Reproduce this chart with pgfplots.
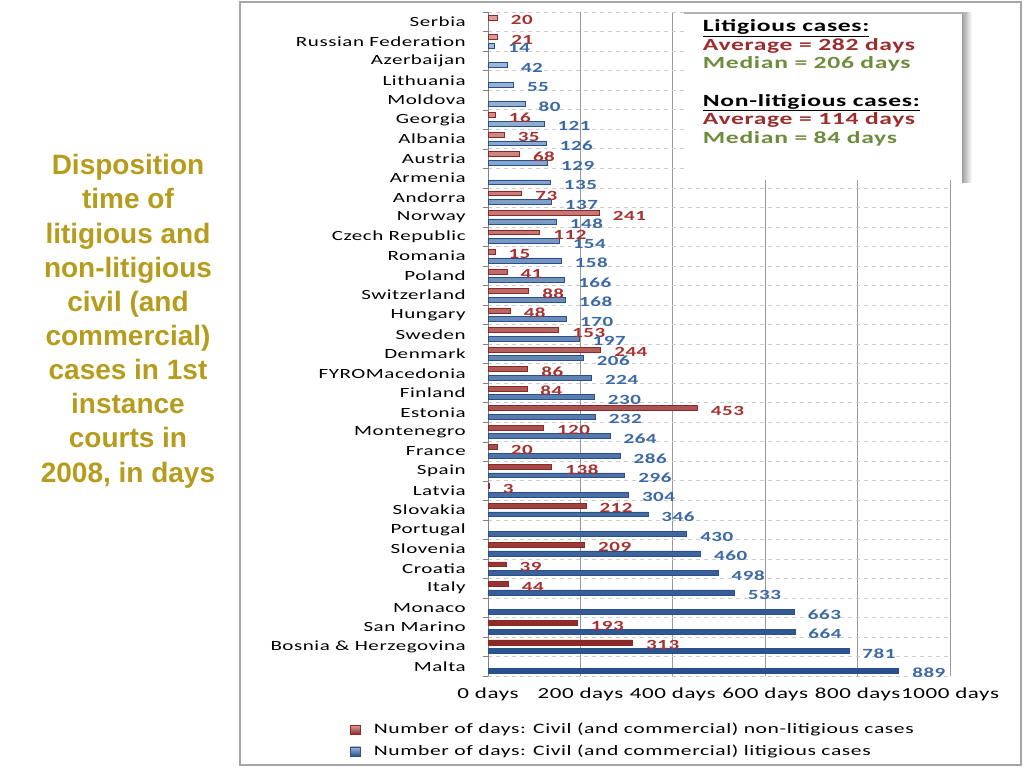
\documentclass[border=0pt]{standalone}
\usepackage{fontspec}
\setmainfont{Carlito}[FakeStretch=1.5, LetterSpace=4]
\newfontfamily\titlefont{Liberation Sans}
\usepackage{pgfplots}
\pgfplotsset{compat=1.18}
\definecolor{redbar}{RGB}{192,80,77}
\definecolor{redbardark}{RGB}{140,40,38}
\definecolor{bluebar}{RGB}{79,129,189}
\definecolor{bluebardark}{RGB}{40,80,140}
\definecolor{redlbl}{RGB}{165,50,48}
\definecolor{bluelbl}{RGB}{60,105,165}
\definecolor{titlecol}{RGB}{181,156,28}
\definecolor{avgcol}{RGB}{155,45,45}
\definecolor{medcol}{RGB}{110,140,60}
\begin{document}
\begin{tikzpicture}
\path[use as bounding box] (0,0) rectangle (768pt,-576pt);
\draw[gray!70, line width=0.8pt] (180pt,-1.5pt) rectangle (765.75pt,-573.75pt);
\node[font=\titlefont\bfseries\fontsize{21}{25.6}\selectfont, text=titlecol, align=center, anchor=base, inner sep=0pt] at (96pt,-361.5pt)
 {Disposition\\time of\\litigious and\\non-litigious\\civil (and\\commercial)\\cases in 1st\\instance\\courts in\\2008, in days};
\begin{axis}[
  at={(366pt,-507pt)}, anchor=south west,
  width=346.5pt, height=498pt, scale only axis,
  xmin=0, xmax=1000, ymin=-0.5, ymax=33.5,
  xbar, bar width=0.25,
  /pgf/number format/assume math mode=true,
  axis y line*=left, axis x line*=bottom,
  x axis line style={draw=none},
  y axis line style={gray},
  xtick={0,200,...,1000},
  xticklabels={0 days,200 days,400 days,600 days,800 days,1000 days},
  xmajorgrids, major grid style={gray!80, line width=0.6pt},
  major x tick style={draw=none},
  ytick={0,...,33},
  yticklabels={Malta,Bosnia \& Herzegovina,San Marino,Monaco,Italy,Croatia,Slovenia,Portugal,Slovakia,Latvia,Spain,France,Montenegro,Estonia,Finland,FYROMacedonia,Denmark,Sweden,Hungary,Switzerland,Poland,Romania,Czech Republic,Norway,Andorra,Armenia,Austria,Albania,Georgia,Moldova,Lithuania,Azerbaijan,Russian Federation,Serbia},
  major y tick style={draw=none},
  major tick length=0pt,
  minor ytick={-0.5,0.5,...,33.5},
  yminorgrids, minor grid style={gray!40, dashed},
  minor y tick style={gray}, minor tick length=4pt, tick align=outside,
  yticklabel style={font=\fontsize{10.5}{12}\selectfont, anchor=east, inner sep=0pt, xshift=-16.5pt},
  xticklabel style={font=\fontsize{11.5}{13}\selectfont, anchor=north, inner sep=0pt, yshift=-8.5pt},
  nodes near coords, nodes near coords align=horizontal,
  nodes near coords style={font=\bfseries\fontsize{10.5}{12}\selectfont, anchor=west, inner sep=0pt, xshift=10pt, yshift=-2pt},
  legend style={at={(-0.307,-0.063)}, anchor=north west, draw=none, fill=none, font=\fontsize{10.8}{12}\selectfont, row sep=3pt, column sep=7.75pt},
  legend cell align=left,
  legend image code/.code={\draw[#1] (0pt,-3.5pt) rectangle (7.5pt,3.5pt);},
]
\addplot[bar shift=0.22, draw=redbardark, top color=redbar!55!white, middle color=redbar, bottom color=redbardark,
  every node near coord/.append style={text=redlbl}]
 coordinates {(20,33) (21,32) (16,28) (35,27) (68,26) (73,24) (241,23) (112,22) (15,21) (41,20) (88,19) (48,18) (153,17) (244,16) (86,15) (84,14) (453,13) (120,12) (20,11) (138,10) (3,9) (212,8) (209,6) (39,5) (44,4) (193,2) (313,1)};
\addlegendentry{Number of days: Civil (and commercial) non-litigious cases}
\addplot[bar shift=-0.22, draw=bluebardark, top color=bluebar!55!white, middle color=bluebar, bottom color=bluebardark,
  every node near coord/.append style={text=bluelbl}]
 coordinates {(14,32) (42,31) (55,30) (80,29) (121,28) (126,27) (129,26) (135,25) (137,24) (148,23) (154,22) (158,21) (166,20) (168,19) (170,18) (197,17) (206,16) (224,15) (230,14) (232,13) (264,12) (286,11) (296,10) (304,9) (346,8) (430,7) (460,6) (498,5) (533,4) (663,3) (664,2) (781,1) (889,0)};
\addlegendentry{Number of days: Civil (and commercial) litigious cases}
\end{axis}
% info box
\shade[left color=gray!75, right color=white] (721.5pt,-9.5pt) rectangle (729pt,-136.5pt);
\fill[white] (513pt,-10pt) rectangle (721.5pt,-135pt);
\draw[gray!60, line width=1pt] (513pt,-9.75pt) -- (725pt,-9.75pt);
\node[anchor=base west, align=left, inner sep=0pt, font=\bfseries\fontsize{12.8}{13.9}\selectfont] at (527pt,-107.3pt)
 {\underline{Litigious cases:}\\
  \textcolor{avgcol}{Average = 282 days}\\
  \textcolor{medcol}{Median = 206 days}\\[13.9pt]
  \underline{Non-litigious cases:}\\
  \textcolor{avgcol}{Average = 114 days}\\
  \textcolor{medcol}{Median = 84 days}};
\end{tikzpicture}
\end{document}
